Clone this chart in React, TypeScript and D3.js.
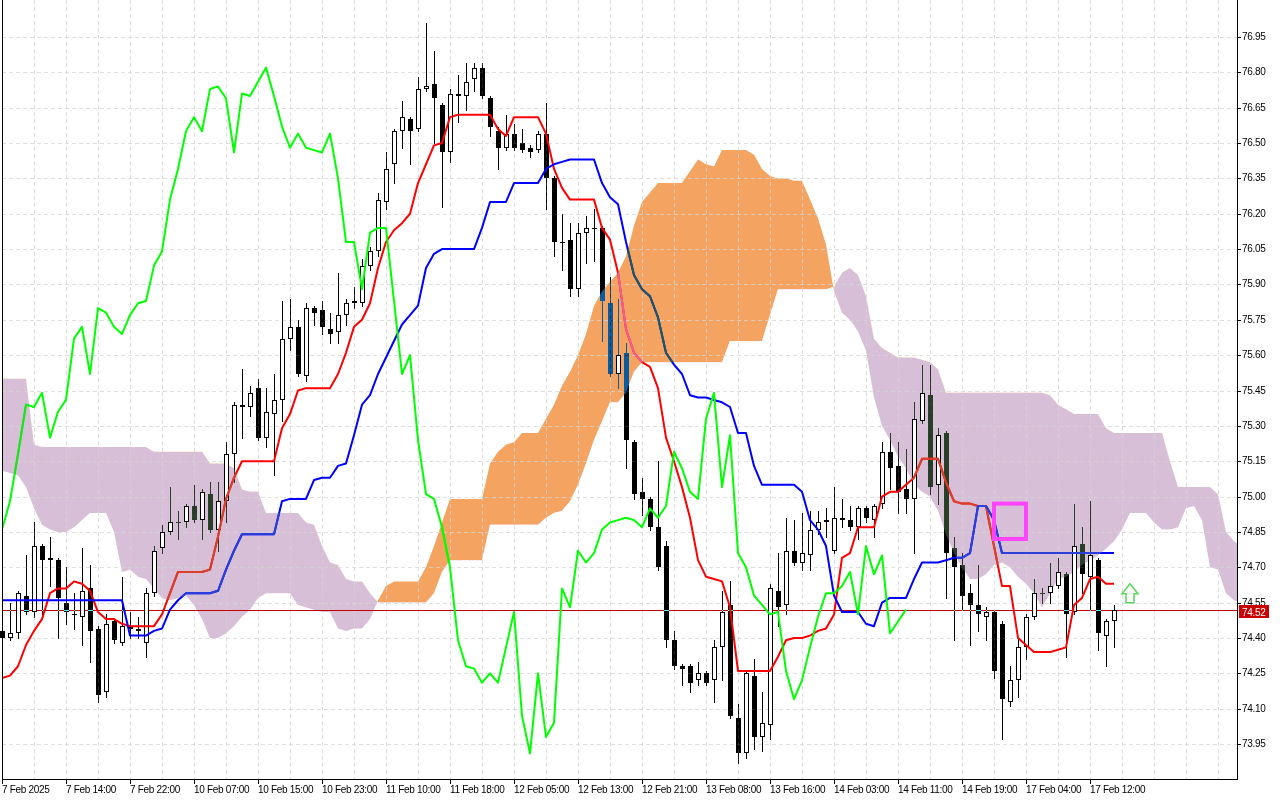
import { useEffect, useRef } from "react";
import * as d3 from "d3";

// hourly candles, oldest first (bar 0 = first visible bar)
const opens = [
  74.43, 74.40, 74.42, 74.58, 74.51, 74.79, 74.74, 74.73, 74.55, 74.50,
  74.49, 74.61, 74.44, 74.17, 74.47, 74.38, 74.45, 74.44, 74.38, 74.59,
  74.78, 74.85, 74.89, 74.89, 74.96, 74.90, 75.01, 74.86, 74.98, 75.18,
  75.39, 75.38, 75.46, 75.25, 75.35, 75.41, 75.67, 75.72, 75.51, 75.80,
  75.79, 75.71, 75.70, 75.77, 75.82, 75.82, 75.98, 76.04, 76.25, 76.41,
  76.55, 76.60, 76.56, 76.73, 76.75, 76.66, 76.46, 76.71, 76.70, 76.77,
  76.82, 76.69, 76.55, 76.48, 76.54, 76.50, 76.48, 76.47, 76.54, 76.35,
  76.08, 76.09, 75.88, 76.12, 76.14, 76.14, 75.82, 75.52, 75.61, 75.23,
  75.02, 74.99, 74.87, 74.79, 74.39, 74.28, 74.28, 74.22, 74.25, 74.22,
  74.36, 74.54, 74.06, 73.91, 74.24, 73.98, 74.03, 74.60, 74.54, 74.77,
  74.72, 74.75, 74.86, 74.89, 74.77, 74.91, 74.90, 74.87, 74.95, 74.90,
  74.97, 75.19, 75.13, 75.03, 74.99, 75.32, 75.43, 75.05, 75.27, 74.78,
  74.71, 74.59, 74.54, 74.49, 74.51, 74.46, 74.13, 74.22, 74.36, 74.49,
  74.59, 74.59, 74.62, 74.67, 74.51, 74.80, 74.66, 74.73, 74.41, 74.47,
];
const highs = [
  74.45, 74.55, 74.60, 74.75, 74.89, 74.80, 74.83, 74.74, 74.70, 74.59,
  74.78, 74.71, 74.45, 74.50, 74.48, 74.66, 74.51, 74.49, 74.61, 74.79,
  74.88, 75.04, 74.94, 74.97, 75.05, 75.03, 75.06, 75.06, 75.23, 75.40,
  75.54, 75.47, 75.50, 75.46, 75.52, 75.83, 75.84, 75.75, 75.82, 75.81,
  75.83, 75.78, 75.95, 75.84, 75.89, 76.01, 76.06, 76.29, 76.46, 76.56,
  76.68, 76.61, 76.78, 77.01, 76.89, 76.67, 76.73, 76.79, 76.84, 76.84,
  76.84, 76.70, 76.57, 76.62, 76.58, 76.56, 76.49, 76.55, 76.67, 76.36,
  76.20, 76.16, 76.16, 76.19, 76.22, 76.15, 75.93, 75.84, 75.65, 75.24,
  75.08, 75.00, 75.15, 74.81, 74.43, 74.29, 74.29, 74.30, 74.26, 74.39,
  74.60, 74.64, 74.12, 74.26, 74.31, 74.17, 74.63, 74.76, 74.91, 74.90,
  74.93, 74.94, 74.94, 74.95, 75.04, 74.99, 74.96, 74.96, 74.96, 74.97,
  75.23, 75.27, 75.23, 75.20, 75.40, 75.56, 75.56, 75.29, 75.28, 74.83,
  74.76, 74.63, 74.71, 74.53, 74.52, 74.47, 74.28, 74.40, 74.50, 74.65,
  74.61, 74.72, 74.74, 74.68, 74.97, 74.87, 74.98, 74.74, 74.48, 74.54,
];
const lows = [
  74.39, 74.39, 74.40, 74.50, 74.49, 74.48, 74.62, 74.40, 74.46, 74.44,
  74.37, 74.30, 74.13, 74.15, 74.38, 74.37, 74.40, 74.40, 74.32, 74.58,
  74.76, 74.84, 74.82, 74.87, 74.89, 74.82, 74.85, 74.77, 74.89, 75.06,
  75.25, 75.34, 75.24, 75.21, 75.09, 75.32, 75.62, 75.51, 75.49, 75.73,
  75.69, 75.65, 75.65, 75.73, 75.80, 75.81, 75.96, 76.02, 76.22, 76.33,
  76.48, 76.41, 76.55, 76.72, 76.50, 76.23, 76.42, 76.59, 76.64, 76.72,
  76.69, 76.53, 76.39, 76.47, 76.47, 76.46, 76.44, 76.46, 76.22, 76.02,
  75.96, 75.85, 75.85, 75.99, 76.00, 75.66, 75.51, 75.46, 75.12, 74.99,
  74.92, 74.86, 74.69, 74.36, 74.27, 74.20, 74.17, 74.20, 74.20, 74.13,
  74.22, 74.06, 73.87, 73.89, 73.93, 73.92, 73.97, 74.45, 74.50, 74.71,
  74.69, 74.69, 74.84, 74.83, 74.76, 74.87, 74.86, 74.82, 74.89, 74.83,
  74.95, 75.03, 74.93, 74.93, 74.76, 75.31, 75.01, 74.97, 74.57, 74.39,
  74.52, 74.37, 74.43, 74.39, 74.23, 73.97, 74.11, 74.15, 74.31, 74.48,
  74.55, 74.55, 74.61, 74.32, 74.50, 74.59, 74.52, 74.35, 74.28, 74.36,
];
const closes = [
  74.40, 74.42, 74.59, 74.51, 74.79, 74.73, 74.73, 74.57, 74.51, 74.50,
  74.60, 74.43, 74.16, 74.46, 74.39, 74.45, 74.44, 74.43, 74.59, 74.77,
  74.85, 74.89, 74.89, 74.96, 74.90, 75.02, 74.86, 74.98, 75.18, 75.39,
  75.38, 75.44, 75.25, 75.36, 75.41, 75.67, 75.72, 75.52, 75.80, 75.78,
  75.72, 75.69, 75.77, 75.82, 75.83, 75.98, 76.04, 76.26, 76.39, 76.55,
  76.61, 76.55, 76.73, 76.74, 76.69, 76.46, 76.71, 76.70, 76.76, 76.82,
  76.70, 76.57, 76.48, 76.54, 76.48, 76.47, 76.46, 76.54, 76.35, 76.08,
  76.08, 75.88, 76.12, 76.14, 76.14, 75.83, 75.52, 75.60, 75.24, 75.01,
  74.99, 74.87, 74.70, 74.39, 74.28, 74.27, 74.21, 74.25, 74.21, 74.36,
  74.51, 74.07, 73.91, 74.25, 73.98, 74.04, 74.61, 74.53, 74.77, 74.72,
  74.76, 74.86, 74.89, 74.90, 74.91, 74.90, 74.87, 74.95, 74.91, 74.96,
  75.19, 75.12, 75.02, 74.99, 75.33, 75.44, 75.04, 75.26, 74.76, 74.70,
  74.58, 74.54, 74.50, 74.51, 74.26, 74.14, 74.22, 74.36, 74.49, 74.59,
  74.59, 74.62, 74.68, 74.50, 74.79, 74.67, 74.75, 74.42, 74.47, 74.52,
];

// Ichimoku lines as drawn on the chart
const tenkan = [
  74.23, 74.24, 74.28, 74.37, 74.43, 74.48, 74.59, 74.61, 74.61, 74.64,
  74.63, 74.60, 74.51, 74.48, 74.48, 74.46, 74.45, 74.45, 74.45, 74.45,
  74.50, 74.59, 74.68, 74.68, 74.68, 74.68, 74.69, 74.83, 74.99, 75.08,
  75.15, 75.15, 75.15, 75.15, 75.15, 75.29, 75.35, 75.45, 75.46, 75.46,
  75.46, 75.46, 75.52, 75.61, 75.72, 75.75, 75.82, 75.97, 76.08, 76.13,
  76.16, 76.20, 76.33, 76.41, 76.49, 76.50, 76.61, 76.62, 76.62, 76.62,
  76.62, 76.62, 76.56, 76.53, 76.61, 76.61, 76.61, 76.61, 76.54, 76.39,
  76.31, 76.26, 76.26, 76.26, 76.26, 76.14, 76.09, 75.95, 75.71, 75.61,
  75.57, 75.55, 75.46, 75.25, 75.15, 75.04, 74.91, 74.73, 74.66, 74.65,
  74.64, 74.53, 74.26, 74.26, 74.26, 74.26, 74.26, 74.32, 74.39, 74.40,
  74.40, 74.41, 74.43, 74.44, 74.50, 74.74, 74.76, 74.87, 74.87, 74.87,
  75.00, 75.02, 75.02, 75.05, 75.08, 75.16, 75.16, 75.16, 75.06, 74.98,
  74.97, 74.97, 74.96, 74.96, 74.79, 74.62, 74.62, 74.40, 74.37, 74.34,
  74.34, 74.34, 74.35, 74.36, 74.54, 74.57, 74.65, 74.66, 74.63, 74.63,
];
const kijun = [
  74.56, 74.56, 74.56, 74.56, 74.56, 74.56, 74.56, 74.56, 74.56, 74.56,
  74.56, 74.56, 74.56, 74.56, 74.56, 74.56, 74.41, 74.41, 74.41, 74.43,
  74.44, 74.52, 74.56, 74.59, 74.59, 74.59, 74.59, 74.60, 74.69, 74.77,
  74.84, 74.84, 74.84, 74.84, 74.84, 74.98, 74.99, 74.99, 74.99, 75.07,
  75.08, 75.08, 75.13, 75.14, 75.26, 75.39, 75.43, 75.52, 75.59, 75.66,
  75.73, 75.77, 75.81, 75.97, 76.03, 76.05, 76.05, 76.05, 76.05, 76.05,
  76.14, 76.25, 76.25, 76.25, 76.33, 76.33, 76.33, 76.33, 76.39, 76.41,
  76.42, 76.43, 76.43, 76.43, 76.43, 76.33, 76.27, 76.24, 76.08, 75.94,
  75.88, 75.85, 75.76, 75.61, 75.56, 75.52, 75.43, 75.42, 75.42, 75.41,
  75.40, 75.38, 75.27, 75.27, 75.13, 75.05, 75.05, 75.05, 75.05, 75.05,
  75.02, 74.90, 74.86, 74.79, 74.58, 74.51, 74.51, 74.51, 74.46, 74.45,
  74.55, 74.57, 74.57, 74.57, 74.65, 74.72, 74.72, 74.72, 74.73, 74.74,
  74.74, 74.76, 74.96, 74.96, 74.90, 74.76, 74.76, 74.76, 74.76, 74.76,
  74.76, 74.76, 74.76, 74.76, 74.76, 74.76, 74.76, 74.76, 74.76, 74.76,
];
// cloud spans run past the last candle (cut off by the price axis)
const spanA = [
  75.11, 75.10, 75.09, 75.04, 74.95, 74.88, 74.86, 74.85, 74.85, 74.87,
  74.90, 74.93, 74.93, 74.93, 74.85, 74.68, 74.69, 74.66, 74.65, 74.61,
  74.57, 74.56, 74.57, 74.58, 74.54, 74.48, 74.40, 74.40, 74.42, 74.45,
  74.49, 74.52, 74.57, 74.59, 74.59, 74.59, 74.59, 74.54, 74.53, 74.52,
  74.51, 74.51, 74.44, 74.43, 74.44, 74.44, 74.48, 74.56, 74.62, 74.64,
  74.64, 74.64, 74.64, 74.70, 74.79, 74.89, 74.99, 74.99, 74.99, 74.99,
  74.99, 75.14, 75.19, 75.22, 75.23, 75.27, 75.27, 75.27, 75.33, 75.39,
  75.47, 75.53, 75.60, 75.69, 75.81, 75.87, 75.91, 75.95, 76.02, 76.15,
  76.25, 76.29, 76.33, 76.33, 76.33, 76.33, 76.38, 76.43, 76.41, 76.40,
  76.47, 76.47, 76.47, 76.47, 76.45, 76.39, 76.36, 76.35, 76.35, 76.34,
  76.34, 76.26, 76.18, 76.07, 75.87, 75.78, 75.75, 75.70, 75.62, 75.42,
  75.30, 75.24, 75.17, 75.12, 75.05, 75.02, 75.00, 74.94, 74.84, 74.76,
  74.70, 74.65, 74.65, 74.67, 74.71, 74.72, 74.70, 74.66, 74.63, 74.59,
  74.53, 74.59, 74.65, 74.66, 74.68, 74.71, 74.73, 74.75, 74.78, 74.81,
  74.86, 74.93, 74.93, 74.93, 74.89, 74.86, 74.86, 74.87, 74.95, 74.96,
  74.90, 74.70, 74.69, 74.59, 74.56, 74.55,
];
const spanB = [
  75.50, 75.50, 75.50, 75.50, 75.22, 75.21, 75.21, 75.21, 75.21, 75.21,
  75.21, 75.21, 75.21, 75.21, 75.21, 75.21, 75.21, 75.21, 75.21, 75.19,
  75.19, 75.19, 75.19, 75.19, 75.19, 75.19, 75.14, 75.14, 75.14, 75.12,
  75.03, 75.02, 75.02, 74.93, 74.93, 74.93, 74.93, 74.93, 74.89, 74.88,
  74.79, 74.72, 74.71, 74.65, 74.64, 74.64, 74.59, 74.55, 74.55, 74.55,
  74.55, 74.55, 74.55, 74.55, 74.59, 74.68, 74.73, 74.73, 74.73, 74.73,
  74.73, 74.88, 74.88, 74.88, 74.88, 74.88, 74.88, 74.88, 74.91, 74.93,
  74.94, 74.98, 75.05, 75.14, 75.24, 75.32, 75.40, 75.40, 75.44, 75.53,
  75.57, 75.57, 75.57, 75.57, 75.57, 75.57, 75.57, 75.57, 75.57, 75.57,
  75.57, 75.66, 75.66, 75.66, 75.66, 75.66, 75.77, 75.88, 75.88, 75.88,
  75.88, 75.88, 75.88, 75.88, 75.89, 75.95, 75.97, 75.94, 75.85, 75.67,
  75.63, 75.61, 75.59, 75.59, 75.59, 75.58, 75.57, 75.54, 75.44, 75.44,
  75.44, 75.44, 75.44, 75.44, 75.44, 75.44, 75.44, 75.44, 75.44, 75.44,
  75.44, 75.43, 75.39, 75.37, 75.35, 75.35, 75.35, 75.35, 75.29, 75.27,
  75.27, 75.27, 75.27, 75.27, 75.27, 75.27, 75.15, 75.04, 75.04, 75.04,
  75.04, 75.04, 75.01, 74.85, 74.81, 74.79,
];
const chikouShift = 26;
const lastPrice = 74.52;

const timeLabels = [
  "7 Feb 2025", "7 Feb 14:00", "7 Feb 22:00", "10 Feb 07:00", "10 Feb 15:00",
  "10 Feb 23:00", "11 Feb 10:00", "11 Feb 18:00", "12 Feb 05:00", "12 Feb 13:00",
  "12 Feb 21:00", "13 Feb 08:00", "13 Feb 16:00", "14 Feb 03:00", "14 Feb 11:00",
  "14 Feb 19:00", "17 Feb 04:00", "17 Feb 12:00",
];
const labelEvery = 8;
const priceTicks = [
  73.95, 74.1, 74.25, 74.4, 74.55, 74.7, 74.85, 75.0, 75.15, 75.3, 75.45,
  75.6, 75.75, 75.9, 76.05, 76.2, 76.35, 76.5, 76.65, 76.8, 76.95,
];

// drawn objects
const boxBars = [124, 128];
const boxPrices = [74.97, 74.82];
const arrowBar = 141;
const arrowPrice = 74.63;

export default function App() {
  const svgRef = useRef<SVGSVGElement | null>(null);

  useEffect(() => {
    const svg = d3.select(svgRef.current);
    svg.selectAll("*").remove();

    const width = 1280;
    const height = 800;
    const left = 2;
    const right = 1237;
    const bottom = 779;

    const x = d3.scaleLinear().domain([0, 139]).range([2, 1114]);
    const y = d3.scaleLinear().domain([73.95, 76.95]).range([744, 37]);
    const r = (v: number) => Math.round(v);

    svg
      .attr("width", width)
      .attr("height", height)
      .attr("viewBox", `0 0 ${width} ${height}`)
      .attr("font-family", "'Liberation Sans', Arial, sans-serif")
      .attr("font-size", 10)
      .style("letter-spacing", "-0.3px");

    svg.append("rect").attr("width", width).attr("height", height).attr("fill", "#ffffff");

    const defs = svg.append("defs");
    defs.append("clipPath").attr("id", "plot-clip")
      .append("rect").attr("x", left).attr("y", 0).attr("width", right - left).attr("height", bottom);

    const idx = spanA.map((_, i) => i);
    defs.append("clipPath").attr("id", "above-b")
      .append("path")
      .attr("d", d3.area<number>().x((i) => x(i)).y0(-20).y1((i) => y(spanB[i]))(idx) ?? "");
    defs.append("clipPath").attr("id", "below-b")
      .append("path")
      .attr("d", d3.area<number>().x((i) => x(i)).y0((i) => y(spanB[i])).y1(height + 20)(idx) ?? "");

    // the two coloured parts of the kumo, reused to tint lines passing through it
    const cloud = d3.area<number>().x((i) => x(i)).y0((i) => y(spanA[i])).y1((i) => y(spanB[i]));
    defs.append("clipPath").attr("id", "orange-zone")
      .append("path").attr("d", cloud(idx) ?? "").attr("clip-path", "url(#above-b)");
    defs.append("clipPath").attr("id", "thistle-zone")
      .append("path").attr("d", cloud(idx) ?? "").attr("clip-path", "url(#below-b)");

    const cloudG = svg.append("g").attr("clip-path", "url(#plot-clip)");
    cloudG.append("path").attr("d", cloud(idx) ?? "").attr("fill", "#f4a460").attr("clip-path", "url(#above-b)");
    cloudG.append("path").attr("d", cloud(idx) ?? "").attr("fill", "#d8bfd8").attr("clip-path", "url(#below-b)");

    // grid
    const grid = svg.append("g")
      .attr("stroke", "#d4d4d4")
      .attr("stroke-opacity", 0.75)
      .attr("stroke-dasharray", "4,3")
      .attr("shape-rendering", "crispEdges");
    for (let b = 4; x(b) < right; b += 4) {
      grid.append("line")
        .attr("x1", r(x(b)) + 0.5).attr("x2", r(x(b)) + 0.5)
        .attr("y1", 0).attr("y2", bottom);
    }
    priceTicks.forEach((t) => {
      grid.append("line")
        .attr("x1", left).attr("x2", right)
        .attr("y1", r(y(t)) + 0.5).attr("y2", r(y(t)) + 0.5);
    });

    // bid line
    const yp = r(y(lastPrice));
    svg.append("line")
      .attr("x1", left).attr("x2", right)
      .attr("y1", yp + 0.5).attr("y2", yp + 0.5)
      .attr("stroke", "#c00000")
      .attr("shape-rendering", "crispEdges");

    // candles: white bodies normally, the dark ink inverted over the cloud
    const bodies = svg.append("g").attr("fill", "#ffffff").attr("shape-rendering", "crispEdges");
    const ink = svg.append("g")
      .style("mix-blend-mode", "difference")
      .attr("fill", "#ffffff")
      .attr("stroke", "#ffffff")
      .attr("shape-rendering", "crispEdges");

    closes.forEach((c, i) => {
      const o = opens[i];
      const cx = r(x(i));
      const yo = r(y(o));
      const yc = r(y(c));
      const yh = r(y(highs[i]));
      const yl = r(y(lows[i]));
      const top = Math.min(yo, yc);
      const bot = Math.max(yo, yc);
      const wick = (a: number, b: number) => {
        if (b <= a) return;
        ink.append("line").attr("x1", cx + 0.5).attr("x2", cx + 0.5).attr("y1", a).attr("y2", b);
      };

      if (bot - top < 2) {
        wick(yh, yl + 1);
        ink.append("line")
          .attr("x1", cx - 2).attr("x2", cx + 3)
          .attr("y1", top + 0.5).attr("y2", top + 0.5);
      } else if (c < o) {
        wick(yh, yl + 1);
        ink.append("rect")
          .attr("x", cx - 2).attr("y", top)
          .attr("width", 5).attr("height", bot - top)
          .attr("stroke", "none");
      } else {
        bodies.append("rect")
          .attr("x", cx - 2).attr("y", top)
          .attr("width", 5).attr("height", bot - top);
        wick(yh, top);
        wick(bot, yl + 1);
        ink.append("rect")
          .attr("x", cx - 1.5).attr("y", top + 0.5)
          .attr("width", 4).attr("height", bot - top - 1)
          .attr("fill", "none");
      }
    });

    // tenkan, kijun, chikou
    const lineGen = d3.line<number>().x((_, i) => x(i)).y((d) => y(d));
    const drawLines = (clip: string, red: string, blue: string, green: string) => {
      const g = svg.append("g")
        .attr("clip-path", clip)
        .attr("fill", "none")
        .attr("stroke-width", 2)
        .attr("stroke-linejoin", "round");
      g.append("path").attr("d", lineGen(tenkan) ?? "").attr("stroke", red);
      g.append("path").attr("d", lineGen(kijun) ?? "").attr("stroke", blue);
      g.append("path").attr("d", lineGen(closes.slice(chikouShift)) ?? "").attr("stroke", green);
    };
    drawLines("url(#plot-clip)", "#ff0000", "#0000ff", "#00ff00");
    drawLines("url(#orange-zone)", "#f0609a", "#1d5a5e", "#00ff00");
    drawLines("url(#thistle-zone)", "#d8402c", "#2a40d8", "#20e020");

    // marked box
    svg.append("rect")
      .attr("x", x(boxBars[0]))
      .attr("y", y(boxPrices[0]))
      .attr("width", x(boxBars[1]) - x(boxBars[0]))
      .attr("height", y(boxPrices[1]) - y(boxPrices[0]))
      .attr("fill", "none")
      .attr("stroke", "#ff44ff")
      .attr("stroke-width", 4);

    // buy arrow
    const ax = x(arrowBar);
    const ay = y(arrowPrice);
    svg.append("path")
      .attr("d", `M${ax},${ay} L${ax + 8},${ay + 10} L${ax + 4},${ay + 10} L${ax + 4},${ay + 19} L${ax - 4},${ay + 19} L${ax - 4},${ay + 10} L${ax - 8},${ay + 10} Z`)
      .attr("fill", "#ffffff")
      .attr("stroke", "#5ad65a")
      .attr("stroke-width", 1.5);

    // frame and axes
    const axis = svg.append("g").attr("stroke", "#000000").attr("shape-rendering", "crispEdges");
    axis.append("line").attr("x1", left + 0.5).attr("x2", left + 0.5).attr("y1", 0).attr("y2", bottom + 1);
    axis.append("line").attr("x1", right + 0.5).attr("x2", right + 0.5).attr("y1", 0).attr("y2", bottom + 1);
    axis.append("line").attr("x1", left).attr("x2", right + 1).attr("y1", bottom + 0.5).attr("y2", bottom + 0.5);

    priceTicks.forEach((t) => {
      const yy = r(y(t));
      axis.append("line").attr("x1", right).attr("x2", right + 4).attr("y1", yy + 0.5).attr("y2", yy + 0.5);
      svg.append("text")
        .attr("x", right + 5)
        .attr("y", yy + 3)
        .attr("fill", "#000000")
        .text(t.toFixed(2));
    });

    timeLabels.forEach((label, k) => {
      const xx = r(x(k * labelEvery));
      axis.append("line").attr("x1", xx + 0.5).attr("x2", xx + 0.5).attr("y1", bottom).attr("y2", bottom + 5);
      svg.append("text")
        .attr("x", xx)
        .attr("y", 793)
        .attr("fill", "#000000")
        .text(label);
    });

    svg.append("rect")
      .attr("x", right + 2).attr("y", yp - 5)
      .attr("width", 30).attr("height", 13)
      .attr("fill", "#c80000");
    svg.append("text")
      .attr("x", right + 5)
      .attr("y", yp + 5.5)
      .attr("fill", "#ffffff")
      .text(lastPrice.toFixed(2));
  }, []);

  return (
    <svg
      ref={svgRef}
      style={{ position: "absolute", left: 0, top: 0, display: "block" }}
    />
  );
}
